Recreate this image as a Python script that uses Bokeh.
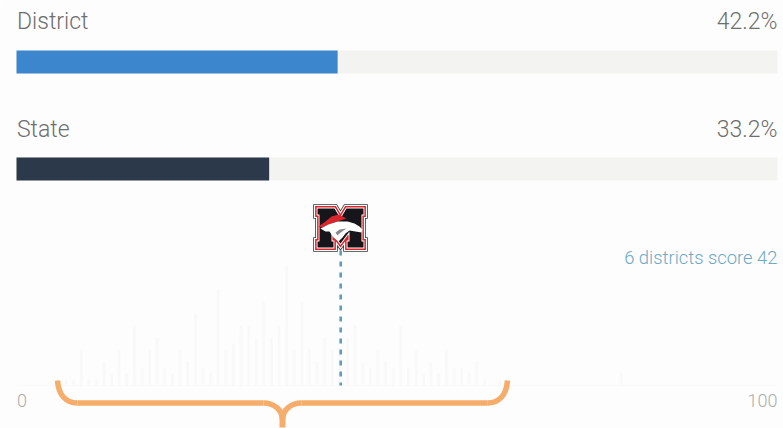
from bokeh.plotting import figure
from bokeh.models import Range1d
from bokeh.core.properties import value
from bokeh.embed import file_html
from bokeh.resources import INLINE

# ---- data ----
row_labels = ["District", "State"]
row_values = [42.2, 33.2]
row_texts = ["42.2%", "33.2%"]
full_scale = 100
tick_labels = ["0", "100"]
note_text = "6 districts score 42"
marker_score = 42.6
hist_scores = [6, 7, 8, 9, 10, 11, 12, 13, 14, 15, 16, 17, 18, 19, 20, 21, 22, 23, 24, 25,
               26, 27, 28, 29, 30, 31, 32, 33, 34, 35, 36, 37, 38, 39, 40, 41, 42, 43, 44, 45,
               46, 47, 48, 49, 50, 51, 52, 53, 54, 55, 56, 57, 58, 59, 60, 61, 63, 79]
hist_counts = [1, 1, 6, 1, 1, 4, 2, 6, 2, 10, 3, 6, 8, 3, 2, 6, 4, 12, 3, 2,
               16, 6, 7, 10, 10, 8, 14, 8, 10, 20, 6, 14, 6, 4, 8, 6, 6, 8, 10, 4,
               3, 6, 4, 3, 10, 3, 6, 2, 4, 2, 6, 3, 3, 2, 4, 1, 1, 2]

# ---- layout ----
W, H = 783, 428
X0, X100 = 16.0, 777.0          # screen x of score 0 and 100
PX_L, PX_R, PX_T, PX_B = 0, 783, 0, 428
BASE = 385.0
PX_PER_COUNT = 6.0
sx = (X100 - X0) / 100.0

p = figure(width=W, height=H, toolbar_location=None, output_backend="svg",
           x_range=Range1d((PX_L - X0) / sx, (PX_R - X0) / sx),
           y_range=Range1d(PX_B, PX_T),
           min_border=0, min_border_left=0, min_border_right=0, min_border_top=0, min_border_bottom=0,
           margin=(0, 0, 0, 0),
           background_fill_color="#fdfdfd", border_fill_color="#fdfdfd", outline_line_color=None)
p.axis.visible = False
p.grid.visible = False
p.extra_x_ranges["px"] = Range1d(PX_L, PX_R)
p.extra_y_ranges["count"] = Range1d((BASE - PX_B) / PX_PER_COUNT, (BASE - PX_T) / PX_PER_COUNT)

FONT = value("Roboto Light")
TXT = "#6e6e6e"
BAR_COLORS = ["#3b86cc", "#2b394b"]
TRACK = "#f3f3f1"
BAR_TOPS = [50, 157]
LABEL_Y = [21, 129]
BAR_H = 23

# rows
for lab, val, txt, col, top, ly in zip(row_labels, row_values, row_texts, BAR_COLORS, BAR_TOPS, LABEL_Y):
    yc = top + BAR_H / 2
    p.hbar(y=[yc], height=BAR_H, left=[0], right=[full_scale], fill_color=TRACK, line_color=None)
    p.hbar(y=[yc], height=BAR_H, left=[0], right=[val], fill_color=col, line_color=None)
    p.text(x=[16.5], y=[ly], text=[lab], x_range_name="px", text_font=FONT, text_font_size="23px",
           text_color=TXT, text_baseline="middle", text_align="left")
    p.text(x=[777], y=[ly], text=[txt], x_range_name="px", text_font=FONT, text_font_size="23px",
           text_color=TXT, text_baseline="middle", text_align="right")

# histogram
p.vbar(x=[s + 0.5 for s in hist_scores], width=0.38, bottom=0, top=hist_counts,
       y_range_name="count", fill_color="#f9f9f9", line_color=None)
p.line(x=[0, full_scale], y=[BASE, BASE], line_color="#f9f9f9", line_width=1)

# marker line
p.line(x=[marker_score, marker_score], y=[250, BASE], line_color="#5b9fbd", line_width=2.6, line_dash="5 6")

# note and ticks
p.text(x=[777], y=[257], text=[note_text], x_range_name="px", text_font=FONT, text_font_size="18.4px",
       text_color="#6ea9c6", text_baseline="middle", text_align="right")
p.text(x=[16.5], y=[400], text=[tick_labels[0]], x_range_name="px", text_font=FONT, text_font_size="18px",
       text_color="#adadad", text_baseline="middle", text_align="left")
p.text(x=[777], y=[400], text=[tick_labels[1]], x_range_name="px", text_font=FONT, text_font_size="18px",
       text_color="#adadad", text_baseline="middle", text_align="right")

# brace
ORANGE = "#f6ad6b"
BW = 5.5
def bez(x0, y0, x1, y1, cx0, cy0, cx1, cy1):
    p.bezier(x0=[x0], y0=[y0], x1=[x1], y1=[y1], cx0=[cx0], cy0=[cy0], cx1=[cx1], cy1=[cy1],
             x_range_name="px", line_color=ORANGE, line_width=BW)
p.line(x=[77, 263], y=[402.5, 402.5], x_range_name="px", line_color=ORANGE, line_width=BW)
p.line(x=[301, 487], y=[402.5, 402.5], x_range_name="px", line_color=ORANGE, line_width=BW)
bez(57, 380, 77, 402.5, 58, 394, 65, 402.5)
bez(507, 380, 487, 402.5, 506, 394, 499, 402.5)
bez(263, 402.5, 282, 419, 274, 402.5, 282, 410)
bez(301, 402.5, 282, 419, 290, 402.5, 282, 410)
p.line(x=[282, 282], y=[415, 427], x_range_name="px", line_color=ORANGE, line_width=BW + 0.5)

# logo (decorative mascot badge)
mx = [-23, -6, 0, 6, 23, 23, 21, 21, 23, 23, 7, 7, 9, 9, 0, -9, -9, -7, -7, -23, -23, -21, -21, -23]
my = [208, 208, 218, 208, 208, 214, 214, 241, 241, 247, 247, 241, 241, 231, 243, 231, 241, 241, 247, 247, 241, 241, 214, 214]
LX = 340
mxs = [LX + v for v in mx]
for w, c in [(8.6, "#3a3a3e"), (7.0, "#ffffff"), (4.8, "#d8262c"), (1.8, "#ffffff")]:
    p.patch(x=mxs, y=my, x_range_name="px", fill_color=c, line_color=c, line_width=w, line_join="miter")
p.patch(x=mxs, y=my, x_range_name="px", fill_color="#15151a", line_color=None)
# mane
p.patch(x=[318, 325, 331, 338, 346, 340, 333, 327, 321], y=[226, 221, 216, 214, 218, 220, 222, 225, 227],
        x_range_name="px", fill_color="#d8262c", line_color=None)
# head
p.patch(x=[320, 328, 337, 347, 354, 359, 362, 361, 355, 349, 345, 342, 338, 333, 329, 325],
        y=[228, 224, 221, 221, 223, 226, 229, 232, 231, 230, 233, 237, 241, 237, 231, 231],
        x_range_name="px", fill_color="#ffffff", line_color=None)
p.patch(x=[335, 339, 346, 343, 339, 337], y=[232, 229, 228, 230, 233, 235],
        x_range_name="px", fill_color="#8a8b90", line_color=None)

html = file_html(p, INLINE)
open("out.html", "w").write(html)
